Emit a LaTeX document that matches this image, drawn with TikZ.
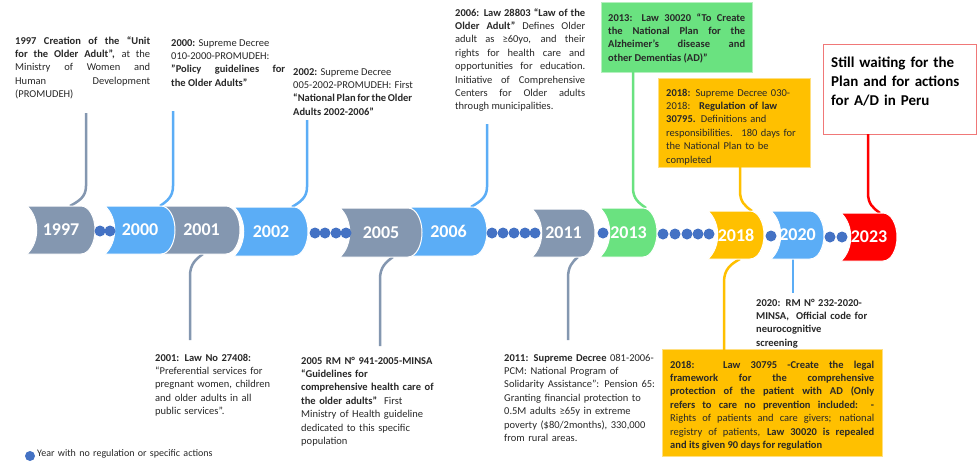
\documentclass[tikz,border=0pt]{standalone}
\usepackage{fontspec}
\setmainfont{Carlito}
\definecolor{cgray}{RGB}{132,151,176}
\definecolor{cblue}{RGB}{91,173,246}
\definecolor{cgreen}{RGB}{106,226,128}
\definecolor{corange}{RGB}{255,192,0}
\definecolor{cred}{RGB}{255,0,0}
\definecolor{dotblue}{RGB}{68,114,196}
\definecolor{txt}{RGB}{40,40,40}
\definecolor{redline}{RGB}{240,120,120}
\newcommand\yseg[7]{%
  \pgfmathsetmacro\ymid{(#4+#5)/2}
  \fill[#6,draw=white,line width=1pt] (#2,#4) -- ({#3-14},#4) .. controls ({#3-6},#4) and (#3,{\ymid-13}) .. (#3,\ymid) .. controls (#3,{\ymid+13}) and ({#3-6},#5) .. ({#3-14},#5) -- (#2,#5) .. controls ({#2+13},{#5-12}) and ({#2+13},{#4+12}) .. (#2,#4) -- cycle;
  \node[yeartxt] (#1) at ({(#2+#3)/2},\ymid) {#7};
}
\begin{document}
\hyphenpenalty=10000
\exhyphenpenalty=10000
\begin{tikzpicture}[x=1pt,y=-1pt,
  yeartxt/.style={text=white,font=\fontsize{18}{20}\selectfont\bfseries,inner sep=0},
  body/.style={anchor=base west,inner sep=0,text=txt,font=\fontsize{10.5}{13.4}\selectfont,align=justify},
  conn/.style={line width=2.5pt},
  dot/.style={circle,fill=dotblue,inner sep=0,minimum size=11pt},
  boxnode/.style={anchor=north west,inner sep=0,rectangle},
]
\useasboundingbox (0,0) rectangle (977,461);
\fill[white] (0,0) rectangle (977,461);

% boxes
\node[boxnode,fill=cgreen,draw=cgreen!50!white,line width=0.8pt,minimum width=151pt,minimum height=70pt] (b2013) at (601,2) {};
\node[boxnode,fill=corange,draw=corange!50!white,line width=0.8pt,minimum width=152pt,minimum height=89pt] (b2018a) at (658,78) {};
\node[boxnode,fill=white,draw=redline,line width=1pt,minimum width=153pt,minimum height=90pt] (bred) at (823,44) {};
\node[boxnode,fill=corange,draw=corange!50!white,line width=0.8pt,minimum width=220pt,minimum height=107pt] (b2018b) at (662,349) {};

% connector end points
\coordinate (k97a) at (86,113);   \coordinate (k97b) at (70,206);
\coordinate (k00a) at (173,111);  \coordinate (k00b) at (160,206);
\coordinate (k02a) at (307,120);  \coordinate (k02b) at (292,207);
\coordinate (k06a) at (487,124);  \coordinate (k06b) at (471,207);
\coordinate (k13a) at (633,72);   \coordinate (k13b) at (646,208);
\coordinate (k18a) at (740,167);  \coordinate (k18b) at (752,211);
\coordinate (k23a) at (868,134);  \coordinate (k23b) at (880,213);
\coordinate (m01a) at (203,254);  \coordinate (m01b) at (190,340);
\coordinate (m05a) at (393,257);  \coordinate (m05b) at (380,346);
\coordinate (m11a) at (578,257);  \coordinate (m11b) at (568,340);
\coordinate (m18a) at (740,259);  \coordinate (m18b) at (724,350);
\coordinate (m20a) at (793,259);  \coordinate (m20b) at (793,293);

% top connectors
\draw[conn,cgray]   (k97a) -- (86,186)  .. controls (86,197) and (79,201) .. (k97b);
\draw[conn,cblue]   (k00a) -- (173,186) .. controls (173,197) and (167,201) .. (k00b);
\draw[conn,cblue]   (k02a) -- (307,187) .. controls (307,198) and (300,202) .. (k02b);
\draw[conn,cblue]   (k06a) -- (487,187) .. controls (487,198) and (479,202) .. (k06b);
\draw[conn,cgreen]  (k13a) -- (633,188) .. controls (633,199) and (639,203) .. (k13b);
\draw[conn,corange] (k18a) -- (740,191) .. controls (740,202) and (745,206) .. (k18b);
\draw[conn,cred]    (k23a) -- (868,193) .. controls (868,204) and (873,208) .. (k23b);
% bottom connectors
\draw[conn,cgray]   (m01a) .. controls (196,259) and (190,264) .. (190,276) -- (m01b);
\draw[conn,cgray]   (m05a) .. controls (386,262) and (380,267) .. (380,279) -- (m05b);
\draw[conn,cgray]   (m11a) .. controls (572,262) and (568,267) .. (568,278) -- (m11b);
\draw[conn,corange] (m18a) .. controls (731,264) and (724,269) .. (724,282) -- (m18b);
\draw[conn,cblue]   (m20a) -- (m20b);

% year segments (right to left so earlier ones overlap)
\yseg{y2023}{841}{897}{213}{261}{cred}{2023}
\yseg{y2020}{771}{824}{211}{259}{cblue}{2020}
\yseg{y2018}{708}{764}{211}{259}{corange}{2018}
\yseg{y2013}{600}{657}{208}{257}{cgreen}{2013}
\yseg{y2011}{532}{595}{209}{257}{cgray}{2011}
\yseg{y2006}{410}{487}{207}{256}{cblue}{2006}
\yseg{y2005}{340}{422}{208}{257}{cgray}{2005}
\yseg{y2002}{234}{308}{207}{256}{cblue}{2002}
\yseg{y2001}{163}{240}{206}{254}{cgray}{2001}
\yseg{y2000}{105}{175}{206}{254}{cblue}{2000}
\yseg{y1997}{27}{95}{206}{254}{cgray}{1997}

% dots
\foreach \x [count=\i] in {100,110} \node[dot] (da\i) at (\x,231) {};
\foreach \x [count=\i] in {315,325,336,346} \node[dot] (db\i) at (\x,233) {};
\foreach \x [count=\i] in {492,503,514,525,535} \node[dot] (dc\i) at (\x,233) {};
\node[dot] (dd1) at (603,233) {};
\foreach \x [count=\i] in {663,675,687,698,709} \node[dot] (de\i) at (\x,234) {};
\node[dot] (df1) at (771,236) {};
\foreach \x [count=\i] in {830,842} \node[dot] (dg\i) at (\x,237) {};

% texts
\node[body,text width=135pt] (t1997) at (15,44) {\textbf{1997 Creation of the “Unit\linebreak for the Older Adult”,} at the\linebreak Ministry of Women and\linebreak Human Development\linebreak (PROMUDEH)};
\node[body,text width=114pt] (t2000) at (171,46) {\textbf{2000:} Supreme Decree\\ 010-2000-PROMUDEH:\\ \textbf{"Policy guidelines for\linebreak the Older Adults"}};
\node[body,text width=119pt] (t2002) at (293,75) {\textbf{2002:} Supreme Decree\\ 005-2002-PROMUDEH:~ First\linebreak \textbf{“National Plan for the Older\linebreak Adults 2002-2006”}};
\node[body,text width=130pt] (t2006) at (455,16) {\textbf{2006: Law 28803 “Law of the\linebreak Older Adult”} Defines Older\linebreak adult as ≥60yo, and their\linebreak rights for health care and\linebreak opportunities for education.\linebreak Initiative of Comprehensive\linebreak Centers for Older adults\linebreak through municipalities.};
\node[body,text width=137pt,font=\fontsize{10.5}{13.4}\selectfont\bfseries] (t2013) at (608,21) {2013: Law 30020 “To Create\linebreak the National Plan for the\linebreak Alzheimer’s disease and\linebreak other Dementias (AD)”};
\node[body,text width=136pt,align=left] (t2018a) at (666,96) {\textbf{2018:} Supreme Decree 030-\\ 2018:~ \textbf{Regulation of law}\\ \textbf{30795.} Definitions and\\ responsibilities.~ 180 days for\\ the National Plan to be\\ completed};
\node[body,text width=137pt,align=left,text=black,font=\fontsize{15}{19.2}\selectfont\bfseries] (tred) at (831,67) {Still waiting for the\\ Plan and for actions\\ for A/D in Peru};
\node[body,text width=140pt,align=left] (t2001) at (155,361) {\textbf{2001: Law No 27408:}\\ “Preferential services for\\ pregnant women, children\\ and older adults in all\\ public services”.};
\node[body,text width=150pt,align=left] (t2005) at (301,364) {\textbf{2005 RM N° 941-2005-MINSA}\\ \textbf{“Guidelines for}\\ \textbf{comprehensive health care of}\\ \textbf{the older adults”}~ First\\ Ministry of Health guideline\\ dedicated to this specific\\ population};
\node[body,text width=160pt,align=left] (t2011) at (504,361) {\textbf{2011: Supreme Decree} 081-2006-\\ PCM: National Program of\\ Solidarity Assistance”: Pension 65:\\ Granting financial protection to\\ 0.5M adults ≥65y in extreme\\ poverty (\$80/2months), 330,000\\ from rural areas.};
\node[body,text width=130pt,align=left,font=\fontsize{10.5}{13.4}\selectfont\bfseries] (t2020) at (756,306) {2020: RM N° 232-2020-\\ MINSA,~ Official code for\\ neurocognitive\\ screening};
\node[body,text width=204pt] (t2018b) at (670,368) {\textbf{2018:~ Law 30795 -Create the legal\linebreak framework for the comprehensive\linebreak protection of the patient with AD (Only\linebreak refers to care no prevention included: -}\linebreak Rights of patients and care givers; national\linebreak registry of patients, \textbf{Law 30020 is repealed\linebreak and its given 90 days for regulation}};

% legend
\node[dot,minimum size=10pt] (dleg) at (30,456) {};
\node[body,text width=200pt,align=left,font=\fontsize{10}{12}\selectfont] (tleg) at (37,456) {Year with no regulation or specific actions};
\end{tikzpicture}
\end{document}
